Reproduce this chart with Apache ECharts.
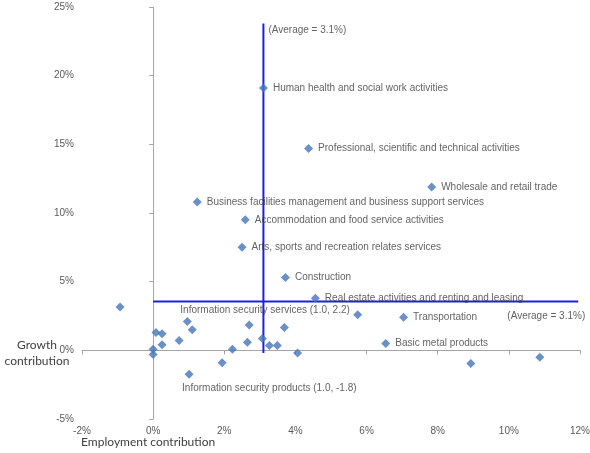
<!DOCTYPE html>
<html>
<head>
<meta charset="utf-8">
<script src="https://cdn.jsdelivr.net/npm/echarts@6/dist/echarts.min.js"></script>
<style>
  html, body { margin: 0; padding: 0; background: #fff; }
  #chart { width: 590px; height: 453px; }
</style>
</head>
<body>
<div id="chart"></div>
<script>
// employment contribution (%) per sector
const employment = [3.1, 4.37, 7.83, 1.24, 2.59, 2.5, 3.72, 4.56, 5.75, 7.04, 6.54, 8.93, 10.87,
  4.06, 3.69, -0.93, 0.08, 0.25, 0.25, 0, 0, 0.73, 0.96, 1.1, 1.01, 1.94, 2.23, 2.65, 2.7, 3.07, 3.27, 3.49];
// growth contribution (%) per sector
const growth = [19.1, 14.7, 11.9, 10.8, 9.5, 7.5, 5.3, 3.8, 2.6, 2.4, 0.5, -0.95, -0.5,
  -0.2, 1.67, 3.15, 1.3, 1.2, 0.4, 0.07, -0.3, 0.72, 2.1, 1.5, -1.74, -0.9, 0.07, 0.58, 1.85, 0.87, 0.36, 0.36];
const sectorNames = [
  'Human health and social work activities',
  'Professional, scientific and technical activities',
  'Wholesale and retail trade',
  'Business facilities management and business support services',
  'Accommodation and food service activities',
  'Arts, sports and recreation relates services',
  'Construction',
  'Real estate activities and renting and leasing',
  '',
  'Transportation',
  'Basic metal products',
  '', '', '', '', '', '', '', '', '', '', '',
  'Information security services (1.0, 2.2)',
  '',
  'Information security products (1.0, -1.8)',
  '', '', '', '', '', '', ''
];
const avgEmployment = 3.1;
const avgGrowth = 3.55;
const avgText = '(Average = 3.1%)';
const xTicks = { min: -2, max: 12, interval: 2 };
const yTicks = { min: -5, max: 25, interval: 5 };

// labels that sit above / below their point instead of to the right
const specialLabel = {
  'Information security services (1.0, 2.2)': { position: 'top', align: 'left', offset: [-7, 3] },
  'Information security products (1.0, -1.8)': { position: 'bottom', align: 'left', offset: [-7, 0] }
};

const labelFont = { fontFamily: 'Liberation Sans, Arial, sans-serif', fontSize: 10, color: '#3a3a3a' };
const titleFont = { fontFamily: 'Lato', fontSize: 12, color: '#404040' };

const points = employment.map((x, i) => {
  const name = sectorNames[i];
  const item = { value: [x, growth[i]], name: name };
  if (name) {
    item.label = Object.assign({ show: true, position: 'right', distance: 5, formatter: name }, labelFont,
      specialLabel[name] || {});
  }
  return item;
});

const chart = echarts.init(document.getElementById('chart'));
chart.setOption({
  animation: false,
  backgroundColor: '#fff',
  grid: { left: 82, right: 10, top: 7, bottom: 34, containLabel: false, outerBoundsMode: 'none' },
  xAxis: {
    type: 'value',
    min: xTicks.min, max: xTicks.max, interval: xTicks.interval,
    name: '{t|Growth}\n{t|contribution}',
    nameLocation: 'start',
    nameGap: 10,
    nameMoveOverlap: false,
    nameTextStyle: {
      padding: [6, 0, 0, 0],
      rich: { t: Object.assign({ width: 70, align: 'center', lineHeight: 16 }, titleFont) }
    },
    axisLine: { onZero: true, lineStyle: { color: '#a6a6a6' } },
    axisTick: { length: 4, lineStyle: { color: '#a6a6a6' } },
    axisLabel: { formatter: '{value}%', fontFamily: 'Liberation Sans, Arial', fontSize: 10, color: '#595959', margin: 7 },
    splitLine: { show: false }
  },
  yAxis: {
    type: 'value',
    min: yTicks.min, max: yTicks.max, interval: yTicks.interval,
    name: 'Employment contribution',
    nameLocation: 'start',
    nameGap: 17,
    nameMoveOverlap: false,
    nameTextStyle: Object.assign({ align: 'center', padding: [0, 10, 0, 0] }, titleFont),
    axisLine: { onZero: true, lineStyle: { color: '#a6a6a6' } },
    axisTick: { length: 4, lineStyle: { color: '#a6a6a6' } },
    axisLabel: { formatter: '{value}%', fontFamily: 'Liberation Sans, Arial', fontSize: 10, color: '#595959', margin: 8 },
    splitLine: { show: false }
  },
  series: [
    {
      type: 'line',
      data: [[avgEmployment, 23.8], [avgEmployment, -0.2]],
      symbol: 'none',
      lineStyle: { color: '#1f1fe0', width: 2 },
      z: 1
    },
    {
      type: 'line',
      data: [[0, avgGrowth], [11.95, avgGrowth]],
      symbol: 'none',
      lineStyle: { color: '#1f1fe0', width: 2 },
      z: 1
    },
    {
      type: 'scatter',
      symbol: 'diamond',
      symbolSize: 9,
      itemStyle: { color: '#4375ba' },
      data: points,
      z: 3
    },
    {
      // anchors for the two average captions
      type: 'scatter',
      symbolSize: 0,
      data: [
        { value: [avgEmployment, 23.8], label: Object.assign({ show: true, position: 'right', distance: 5, offset: [0, 7], formatter: avgText }, labelFont) },
        { value: [11.95, avgGrowth], label: Object.assign({ show: true, position: 'bottom', align: 'right', distance: 5, offset: [7, 5], formatter: avgText }, labelFont) }
      ],
      z: 2
    }
  ]
});
</script>
</body>
</html>
